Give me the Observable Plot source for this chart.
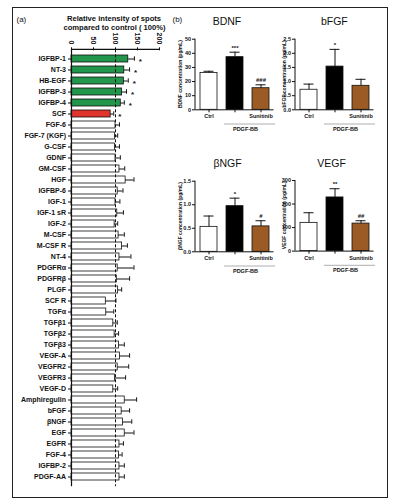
<!DOCTYPE html>
<html><head><meta charset="utf-8">
<script src="https://cdn.jsdelivr.net/npm/d3@7"></script>
<script src="https://cdn.jsdelivr.net/npm/@observablehq/plot@0.6"></script>
<style>
body{margin:0;background:#fff;}
#wrap{position:relative;width:397px;height:501px;overflow:hidden;font-family:"Liberation Sans",Arial,sans-serif;color:#111;}
#frame{position:absolute;left:12px;top:7px;width:376px;height:491px;border:1.3px solid #222;box-sizing:border-box;}
.lbl{position:absolute;white-space:nowrap;line-height:1;}
.ctr{transform:translateX(-50%);}
.abs{position:absolute;}
.abs svg{overflow:visible;}
</style></head><body>
<div id="wrap"><div id="frame"></div></div>
<script>
// ---------- Panel (a): antibody array ----------
const factors = ["IGFBP-1","NT-3","HB-EGF","IGFBP-3","IGFBP-4","SCF","FGF-6","FGF-7 (KGF)","G-CSF","GDNF","GM-CSF","HGF","IGFBP-6","IGF-1","IGF-1 sR","IGF-2","M-CSF","M-CSF R","NT-4","PDGFRα","PDGFRβ","PLGF","SCF R","TGFα","TGFβ1","TGFβ2","TGFβ3","VEGF-A","VEGFR2","VEGFR3","VEGF-D","Amphiregulin","bFGF","βNGF","EGF","EGFR","FGF-4","IGFBP-2","PDGF-AA"];
const intensity = [129,120,119,115,112,89,100,99,99,100,109,123,105,100,104,98,107,115,109,105,103,106,78,79,95,98,108,110,105,99,95,121,114,117,121,109,108,109,109];
const intensityErr = [14,12,10,10,8,7,9,6,10,11,12,19,12,10,14,7,13,12,26,37,29,8,23,17,9,9,12,22,25,24,10,27,18,20,21,9,7,11,11];
const upregulated = ["IGFBP-1","NT-3","HB-EGF","IGFBP-3","IGFBP-4"];
const downregulated = ["SCF"];
const intensityTicks = [0,50,100,150,200];
const controlLevel = 100;
const titleA = ["Relative intensity of spots","compared to control ( 100%)"];

// ---------- Panel (b): ELISA ----------
const groups = ["Ctrl","PDGF-BB","Sunitinib"];
const groupTickLabels = ["Ctrl","","Sunitinib"];
const bracketLabel = "PDGF-BB";
const groupFills = ["#ffffff","#000000","#9c5b24"];

const bdnfMean = [26, 37.3, 15.3];
const bdnfErr  = [1.3, 3.5, 2.4];
const bdnfSig  = ["", "***", "###"];
const bdnfTicks = [0,10,20,30,40,50];

const bfgfMean = [0.71, 1.53, 0.85];
const bfgfErr  = [0.2, 0.61, 0.23];
const bfgfSig  = ["", "*", ""];
const bfgfTicks = [0,0.5,1.0,1.5,2.0,2.5];

const ngfMean = [0.53, 0.97, 0.54];
const ngfErr  = [0.23, 0.17, 0.12];
const ngfSig  = ["", "*", "#"];
const ngfTicks = [0,0.5,1.0,1.5];

const vegfMean = [120, 228, 117];
const vegfErr  = [43, 37, 12];
const vegfSig  = ["", "**", "##"];
const vegfTicks = [0,100,200,300];

const FONT = "Liberation Sans, Arial, sans-serif";
const wrap = document.getElementById("wrap");

function addLabel(text, x, y, size, weight, center) {
  const d = document.createElement("div");
  d.className = "lbl" + (center ? " ctr" : "");
  d.style.left = x + "px"; d.style.top = y + "px";
  d.style.fontSize = size + "px"; d.style.fontWeight = weight;
  d.textContent = text;
  wrap.appendChild(d);
}
function place(node, left, top) {
  const d = document.createElement("div");
  d.className = "abs"; d.style.left = left + "px"; d.style.top = top + "px";
  d.appendChild(node); wrap.appendChild(d);
}

// ---- Panel (a) plot ----
const rowsA = factors.map((f, i) => ({
  factor: f, value: intensity[i], err: intensityErr[i],
  change: upregulated.includes(f) ? "up" : downregulated.includes(f) ? "down" : "ns",
  star: (upregulated.includes(f) || downregulated.includes(f)) ? "*" : ""
}));

const plotA = Plot.plot({
  width: 200, height: 501,
  marginLeft: 71, marginRight: 41, marginTop: 49.3, marginBottom: 14.8,
  style: {fontFamily: FONT, color: "#111", background: "transparent"},
  x: {domain: [0, 200], axis: null},
  y: {domain: factors, paddingInner: 0.32, paddingOuter: 0.077, axis: null},
  color: {domain: ["up","down","ns"], range: ["#22964b","#e0352c","#ffffff"]},
  marks: [
    Plot.barX(rowsA, {x: "value", y: "factor", fill: "change", stroke: "#111", strokeWidth: 0.8}),
    Plot.ruleX([controlLevel], {stroke: "#111", strokeWidth: 1, strokeDasharray: "3,2"}),
    Plot.ruleY(rowsA, {x1: "value", x2: d => d.value + d.err, y: "factor", stroke: "#111", strokeWidth: 1}),
    Plot.tickX(rowsA, {x: d => d.value + d.err, y: "factor", stroke: "#111", strokeWidth: 1, insetTop: 1.3, insetBottom: 1.3}),
    Plot.text(rowsA.filter(d => d.star), {x: d => d.value + d.err, y: "factor", text: "star", dx: 6, dy: 2, fontSize: 8, fontWeight: "bold", fill: "#111"}),
    Plot.ruleX([0], {stroke: "#111", strokeWidth: 1.2}),
    (index, scales, values, dims) => {
      const x = scales.x;
      return d3.create("svg:line")
        .attr("x1", x(intensityTicks[0])).attr("x2", x(intensityTicks[intensityTicks.length - 1]))
        .attr("y1", dims.marginTop).attr("y2", dims.marginTop)
        .attr("stroke", "#111").attr("stroke-width", 1.2).node();
    },
    Plot.axisX({anchor: "top", ticks: intensityTicks, tickRotate: 90, tickSize: 3, tickPadding: 2.5, fontSize: 7, fontWeight: "bold", label: null, stroke: "#111"}),
    Plot.axisY({anchor: "left", tickSize: 3, tickPadding: 2.5, fontSize: 7, fontWeight: "bold", label: null})
  ]
});
place(plotA, 0, 0);

addLabel("(a)", 16.5, 15.5, 8, "normal", false);
addLabel(titleA[0], 114, 14.8, 7.6, "bold", true);
addLabel(titleA[1], 114.5, 24.3, 7.6, "bold", true);
addLabel("(b)", 172.5, 16, 8, "normal", false);

// ---- Panel (b) subplots ----
function subPlot({mean, err, sig, ticks, fmt, ylabel, labelDx, marginTop}) {
  const rows = groups.map((g, i) => ({group: g, mean: mean[i], err: err[i], sig: sig[i], fill: groupFills[i]}));
  const top = ticks[ticks.length - 1];
  return Plot.plot({
    width: 116.5, height: 140,
    marginLeft: 30, marginRight: 8, marginTop: marginTop, marginBottom: 140 - (marginTop + 70.6),
    style: {fontFamily: FONT, color: "#111", background: "transparent"},
    x: {domain: groups, paddingInner: 0.36, paddingOuter: 0.15, axis: null},
    y: {domain: [0, top], axis: null},
    color: {type: "identity"},
    marks: [
      Plot.barY(rows, {x: "group", y: "mean", fill: "fill", stroke: "#111", strokeWidth: 0.8}),
      Plot.ruleX(rows, {x: "group", y1: "mean", y2: d => d.mean + d.err, stroke: "#111", strokeWidth: 1}),
      Plot.tickY(rows, {x: "group", y: d => d.mean + d.err, stroke: "#111", strokeWidth: 1, insetLeft: 3.5, insetRight: 3.5}),
      Plot.text(rows, {x: "group", y: d => d.mean + d.err, text: "sig", dy: -4.5, fontSize: 6, fontWeight: "bold", fill: "#111"}),
      Plot.ruleY([0], {stroke: "#111", strokeWidth: 1}),
      (index, scales, values, dims) => d3.create("svg:line")
        .attr("x1", dims.marginLeft).attr("x2", dims.marginLeft)
        .attr("y1", dims.marginTop).attr("y2", dims.height - dims.marginBottom)
        .attr("stroke", "#111").attr("stroke-width", 1).node(),
      Plot.axisY({anchor: "left", ticks, tickFormat: fmt, tickSize: 3, tickPadding: 1.5, fontSize: 5.5, fontWeight: "bold", label: null}),
      Plot.axisX({anchor: "bottom", ticks: groups, tickFormat: d => groupTickLabels[groups.indexOf(d)], tickSize: 3, tickPadding: 1.5, fontSize: 5.5, fontWeight: "bold", label: null}),
      (index, scales, values, dims) => {
        const yMid = (dims.marginTop + dims.height - dims.marginBottom) / 2;
        return d3.create("svg:text")
          .attr("transform", `translate(${dims.marginLeft + labelDx},${yMid}) rotate(-90)`)
          .attr("text-anchor", "middle").attr("dominant-baseline", "middle")
          .attr("font-size", 5).attr("font-weight", "bold").attr("font-family", FONT)
          .attr("fill", "#111").text(ylabel).node();
      },
      (index, scales, values, dims) => {
        const x = scales.x;
        const bw = typeof x.bandwidth === "function" ? x.bandwidth() : (x.bandwidth || 0);
        const xa = x(groups[1]), xb = x(groups[2]);
        const y = dims.height - dims.marginBottom + 14.7;
        const g = d3.create("svg:g");
        g.append("line").attr("x1", xa - 2).attr("x2", xb + bw + 6).attr("y1", y).attr("y2", y)
          .attr("stroke", "#999").attr("stroke-width", 0.8);
        g.append("text").attr("x", (xa + xb + bw) / 2 - 2).attr("y", y + 6.5)
          .attr("text-anchor", "middle").attr("font-size", 5.5).attr("font-weight", "bold")
          .attr("font-family", FONT).attr("fill", "#111").text(bracketLabel);
        return g.node();
      }
    ]
  });
}

const f0 = d3.format(".0f"), f1 = d3.format(".1f");
place(subPlot({mean: bdnfMean, err: bdnfErr, sig: bdnfSig, ticks: bdnfTicks, fmt: f0, ylabel: "BDNF concentration (pg/mL)", labelDx: -14, marginTop: 38.7}), 165, 0);
place(subPlot({mean: bfgfMean, err: bfgfErr, sig: bfgfSig, ticks: bfgfTicks, fmt: f1, ylabel: "bFGF concentration (pg/mL)", labelDx: -10, marginTop: 38.7}), 265, 0);
place(subPlot({mean: ngfMean, err: ngfErr, sig: ngfSig, ticks: ngfTicks, fmt: f1, ylabel: "βNGF concentration (pg/mL)", labelDx: -14, marginTop: 38.7}), 164.5, 142);
place(subPlot({mean: vegfMean, err: vegfErr, sig: vegfSig, ticks: vegfTicks, fmt: f0, ylabel: "VEGF concentration (pg/mL)", labelDx: -10, marginTop: 38}), 265, 142);

addLabel("BDNF", 227, 15.5, 10.5, "normal", true);
addLabel("bFGF", 334.3, 15.5, 10.5, "normal", true);
addLabel("βNGF", 227.5, 157.5, 10.5, "normal", true);
addLabel("VEGF", 331.5, 157.5, 10.5, "normal", true);
</script>
</body></html>
